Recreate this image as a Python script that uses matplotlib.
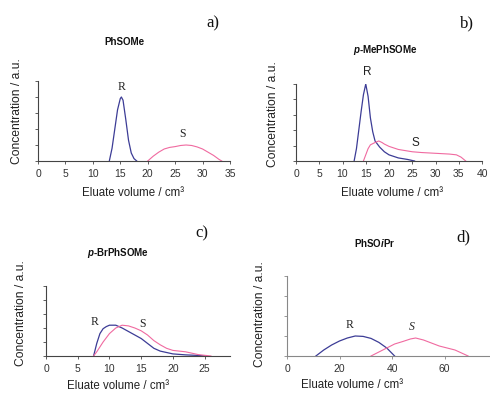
import numpy as np
import matplotlib
matplotlib.use('agg')
import matplotlib.pyplot as plt

plt.rcParams['font.family'] = ['Liberation Sans', 'DejaVu Sans']
plt.rcParams['mathtext.fontset'] = 'custom'
plt.rcParams['mathtext.bfit'] = 'Liberation Sans:italic:bold'
plt.rcParams['mathtext.it'] = 'Liberation Sans:italic'
plt.rcParams['mathtext.rm'] = 'Liberation Sans'

## data (eluate volume in cm3, concentration in a.u.)
# a) PhSOMe
a_R_x = [13, 13.5, 14, 14.5, 15, 15.2, 15.5, 16, 16.5, 17, 17.5, 18]
a_R_y = [0, 0.8, 2.0, 3.2, 3.9, 4.0, 3.8, 2.6, 1.3, 0.5, 0.15, 0]
a_S_x = [20, 21, 22, 23, 24, 25, 26, 27, 28, 29, 30, 31, 32, 33, 33.5]
a_S_y = [0, 0.3, 0.55, 0.75, 0.85, 0.9, 0.97, 1.0, 0.97, 0.88, 0.75, 0.55, 0.35, 0.1, 0]
# b) p-MePhSOMe
b_R_x = [12.5, 13, 13.5, 14, 14.5, 15, 15.5, 16, 16.5, 17, 18, 19, 20, 22, 24, 25.5]
b_R_y = [0, 0.8, 2.0, 3.2, 4.3, 5.0, 4.2, 2.8, 1.9, 1.3, 0.9, 0.6, 0.4, 0.2, 0.1, 0]
b_S_x = [14.5, 15, 15.5, 16, 17, 17.8, 18.5, 19, 20, 21, 22, 23, 25, 27, 30, 33, 34.5, 35.5, 36.5]
b_S_y = [0, 0.4, 0.8, 1.05, 1.2, 1.3, 1.2, 1.1, 0.95, 0.85, 0.75, 0.7, 0.6, 0.55, 0.5, 0.45, 0.4, 0.25, 0]
# c) p-BrPhSOMe
c_R_x = [7.5, 8, 8.5, 9, 9.5, 10, 11, 12, 13, 14, 15, 16, 17, 18, 19, 20, 22, 24, 25]
c_R_y = [0, 0.9, 1.6, 1.95, 2.1, 2.2, 2.2, 2.0, 1.75, 1.5, 1.25, 0.9, 0.55, 0.35, 0.25, 0.15, 0.08, 0.04, 0]
c_S_x = [7.5, 8, 9, 10, 11, 12, 13, 14, 15, 16, 17, 18, 19, 20, 21, 22, 23, 24, 25, 26]
c_S_y = [0, 0.3, 1.0, 1.6, 2.0, 2.2, 2.15, 2.0, 1.8, 1.5, 1.1, 0.8, 0.55, 0.4, 0.35, 0.3, 0.2, 0.1, 0.05, 0]
# d) PhSOiPr
d_R_x = [11, 14, 17, 20, 23, 26, 29, 32, 35, 38, 41]
d_R_y = [0, 0.3, 0.55, 0.75, 0.9, 1.0, 0.98, 0.88, 0.68, 0.4, 0]
d_S_x = [32, 35, 38, 41, 44, 47, 49, 52, 55, 58, 61, 64, 67, 69]
d_S_y = [0, 0.2, 0.4, 0.6, 0.72, 0.85, 0.9, 0.8, 0.65, 0.5, 0.4, 0.3, 0.12, 0]

BLUE = '#3c3c96'
PINK = '#f06aa0'
W, H = 490, 393

fig = plt.figure(figsize=(4.9, 3.93), dpi=100)

def px_axes(l, t, r, b):
    return fig.add_axes([l / W, 1 - b / H, (r - l) / W, (b - t) / H])

def ftext(x, y, s, **kw):
    fig.text(x / W, 1 - y / H, s, ha='center', va='center', **kw)

panels = [
    dict(box=(38, 81, 230, 161), xlim=35, xt=range(0, 36, 5), ymax=5,
         R=(a_R_x, a_R_y), S=(a_S_x, a_S_y), col='#444444',
         title='PhSOMe', tpos=(124, 42), letter='a)', lpos=(213, 23),
         ylab=(17, 111), xlab=(133, 193),
         rlab=(15.2, 4.65), slab=(26.4, 1.7), serif=True),
    dict(box=(296, 84, 482, 161), xlim=40, xt=range(0, 41, 5), ymax=5,
         R=(b_R_x, b_R_y), S=(b_S_x, b_S_y), col='#444444',
         title=r'$\mathbfit{p}$-MePhSOMe', tpos=(385, 50), letter='b)', lpos=(467, 23),
         ylab=(273, 114), xlab=(392, 193),
         rlab=(15.3, 5.8), slab=(25.6, 1.2), serif=False),
    dict(box=(46, 286, 230, 356), xlim=29, xt=range(0, 26, 5), ymax=5,
         R=(c_R_x, c_R_y), S=(c_S_x, c_S_y), col='#444444',
         title=r'$\mathbfit{p}$-BrPhSOMe', tpos=(118, 253), letter='c)', lpos=(202, 233),
         ylab=(21, 313), xlab=(118, 386),
         rlab=(7.6, 2.45), slab=(15.2, 2.3), serif=True),
    dict(box=(287, 276, 497, 356), xlim=80, xt=range(0, 81, 20), ymax=4,
         R=(d_R_x, d_R_y), S=(d_S_x, d_S_y), col='#888888',
         title=r'PhSO$\mathbfit{i}$Pr', tpos=(375, 243), letter='d)', lpos=(463, 237),
         ylab=(260, 314), xlab=(352, 385),
         rlab=(24, 1.55), slab=(47.6, 1.45), serif=True),
]

for p in panels:
    ax = px_axes(*p['box'])
    ax.plot(p['R'][0], p['R'][1], color=BLUE, lw=0.9)
    ax.plot(p['S'][0], p['S'][1], color=PINK, lw=0.8)
    ax.set_xlim(0, p['xlim'])
    ax.set_ylim(0, p['ymax'])
    ax.set_xticks(list(p['xt']))
    ax.set_yticks(range(0, p['ymax'] + 1))
    ax.set_yticklabels([])
    for s in ('top', 'right'):
        ax.spines[s].set_visible(False)
    for s in ('left', 'bottom'):
        ax.spines[s].set_color(p['col'])
        ax.spines[s].set_linewidth(0.8)
    ax.tick_params(length=2.5, width=0.6, color=p['col'], labelsize=7.5,
                   labelcolor='#333333', pad=3)
    ax.patch.set_alpha(0)
    lab_font = 'Liberation Serif' if p['serif'] else 'Liberation Sans'
    ax.text(p['rlab'][0], p['rlab'][1], 'R', family=lab_font, fontsize=8.5,
            ha='center', va='center', color='#222222', clip_on=False)
    ax.text(p['slab'][0], p['slab'][1], 'S', family=lab_font, fontsize=8.5,
            ha='center', va='center', color='#222222',
            style='italic' if p['letter'] == 'd)' else 'normal')
    ftext(*p['tpos'], p['title'], fontsize=7, fontweight='bold', color='#111111')
    ftext(*p['lpos'], p['letter'], fontsize=12, family='Liberation Serif', color='#111111')
    ftext(*p['ylab'], 'Concentration / a.u.', fontsize=8.7, rotation=90, color='#222222')
    ftext(*p['xlab'], 'Eluate volume / cm\u00b3', fontsize=8.3, color='#222222')

fig.savefig('out.png', dpi=100)
